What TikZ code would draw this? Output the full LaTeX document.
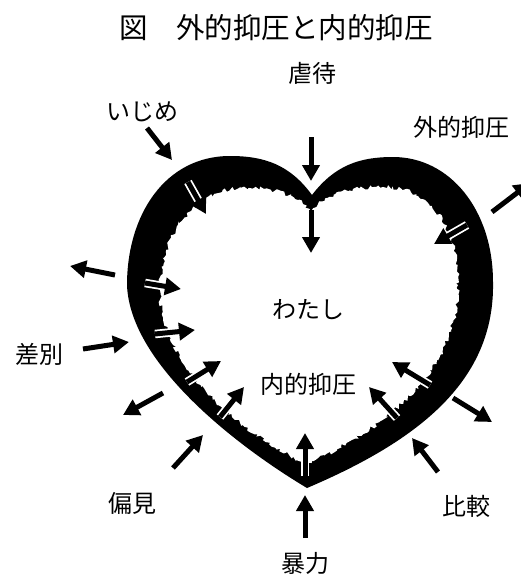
\documentclass[tikz,border=0pt]{standalone}
\usepackage{fontspec}
\newfontfamily\jp{Noto Sans CJK JP}
\usetikzlibrary{arrows.meta,decorations.pathmorphing}
\begin{document}
\begin{tikzpicture}[x=1pt,y=-1pt,
  lbl/.style={font=\jp\fontsize{24}{24}\selectfont, inner sep=0pt, anchor=center},
  ttl/.style={font=\jp\fontsize{28.5}{28.5}\selectfont, inner sep=0pt, anchor=center},
  arr/.style={line width=5pt, -{Triangle[length=16pt,width=17pt]}},
  inarr/.style={arr, preaction={draw, white, line width=8.5pt, -}},
  rough/.style={decorate, decoration={random steps, segment length=2.4pt, amplitude=2pt}},
]
\useasboundingbox (0,0) rectangle (521,576);
\clip (0,0) rectangle (521,576);

% heart: black outer shape
\fill[black]
  (312,195) .. controls (335,165) and (360,157) .. (393,157)
  .. controls (450,157) and (493,210) .. (493,282)
  .. controls (495,380) and (420,440) .. (307,488)
  .. controls (240,448) and (130,365) .. (127,285)
  .. controls (127,215) and (165,156) .. (230,156)
  .. controls (265,156) and (290,165) .. (312,195) -- cycle;

% heart: white inside with a ragged edge
\pgfmathsetseed{7}
\fill[white, rough]
  (312,210) .. controls (330,192) and (355,187) .. (383,187)
  .. controls (430,187) and (458,225) .. (458,285)
  .. controls (458,365) and (395,425) .. (306,464)
  .. controls (245,435) and (160,370) .. (160,290)
  .. controls (160,230) and (200,189) .. (240,188)
  .. controls (270,187) and (295,193) .. (311,211) -- cycle;

% labels
\node[ttl] (title) at (276,28) {図　外的抑圧と内的抑圧};
\node[lbl] (gyakutai) at (312,73) {虐待};
\node[lbl] (ijime) at (142,112) {いじめ};
\node[lbl] (gaiteki) at (461,127) {外的抑圧};
\node[lbl] (watashi) at (308,310) {わたし};
\node[lbl] (sabetsu) at (40,354) {差別};
\node[lbl] (naiteki) at (308,384) {内的抑圧};
\node[lbl] (henken) at (132,503) {偏見};
\node[lbl] (hikaku) at (466,506) {比較};
\node[lbl] (bouryoku) at (305,563) {暴力};

% pressure from outside and pushes outward
\foreach \n/\sx/\sy/\ex/\ey in {
  oa/147/128/172/160, ob/311/137/311/181, oc/492/212/530/183,
  od/115/275/70/266, oe/83/349/129/342, of/163/393/123/415,
  og/173/468/203/435, oh/305/538/305/495, oi/453/398/492/422,
  oj/438/472/412/438} {
  \coordinate (\n-s) at (\sx,\sy);
  \coordinate (\n-e) at (\ex,\ey);
  \draw[arr] (\n-s) -- (\n-e);
}

% pressure turned inward
\foreach \n/\sx/\sy/\ex/\ey in {
  ia/311/210/311/253, ib/305/476/305/433, ic/188/182/206/214,
  id/145/283/181/289, ie/155/334/195/330, if/187/382/221/361,
  ig/220/417/244/387, ih/467/225/434/244, ii/430/385/392/362,
  ij/397/418/369/387} {
  \coordinate (\n-s) at (\sx,\sy);
  \coordinate (\n-e) at (\ex,\ey);
  \draw[inarr] (\n-s) -- (\n-e);
}
\end{tikzpicture}
\end{document}
